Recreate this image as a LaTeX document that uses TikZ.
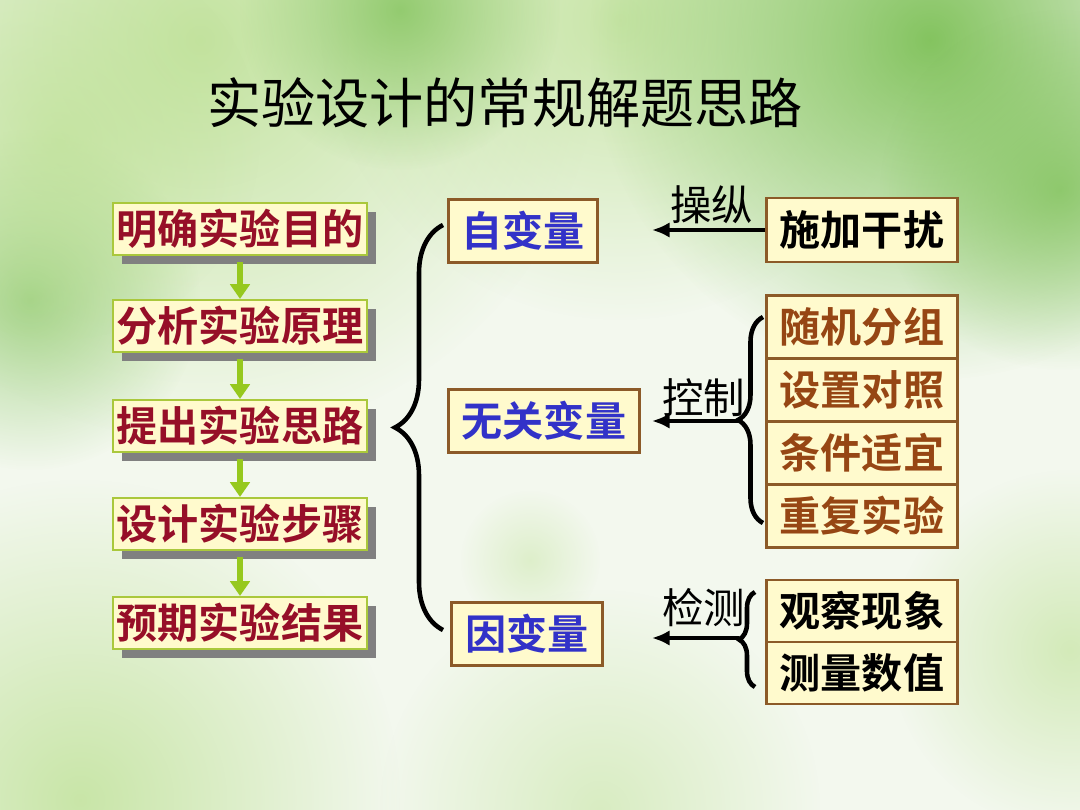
\documentclass[tikz,border=0pt]{standalone}
\usepackage{fontspec}
\setmainfont{Noto Sans CJK SC}[BoldFont={Noto Sans CJK SC Bold}]
\usepackage{tikz}
\usetikzlibrary{arrows.meta,shadows,decorations.pathreplacing,fadings}
\definecolor{bgcol}{RGB}{243,248,238}
\definecolor{leaf}{RGB}{120,190,80}
\definecolor{lime}{RGB}{190,225,150}
\definecolor{boxfill}{RGB}{255,250,205}
\definecolor{boxline}{RGB}{140,90,40}
\definecolor{stepline}{RGB}{170,200,60}
\definecolor{steptext}{RGB}{150,15,40}
\definecolor{vartext}{RGB}{50,50,200}
\definecolor{ctrltext}{RGB}{150,70,20}
\definecolor{arrowgreen}{RGB}{150,200,30}
\newcommand{\boxfont}{\bfseries\fontsize{11.7}{12}\selectfont}
\tikzfading[name=softblob,inner color=transparent!0,outer color=transparent!100]
\tikzstyle{stepbox}=[draw=stepline,line width=0.6,fill=boxfill,text=steptext,font=\boxfont,
                     minimum width=25.4mm,minimum height=5.2mm,inner sep=0,
                     drop shadow={shadow xshift=0.9mm,shadow yshift=-0.9mm,fill=black!50,opacity=1}]
\tikzstyle{varbox}=[draw=boxline,line width=0.6,fill=boxfill,text=vartext,font=\boxfont,
                    minimum height=6.3mm,inner sep=0]
\tikzstyle{actbox}=[varbox,text=black,minimum width=19.1mm]
\tikzstyle{ctrlbox}=[actbox,text=ctrltext]
\tikzstyle{flow}=[-{Triangle[length=4.2,width=5.5]},line width=1.5,arrowgreen]
\tikzstyle{pull}=[-{Latex[length=5,width=4.4]},line width=1.3]
\tikzstyle{lbl}=[font=\fontsize{11.8}{12}\selectfont,inner sep=1]
\tikzstyle{blob}=[path fading=softblob]
\tikzset{curly/.style={line width=1.3,decorate,decoration={brace,amplitude=#1}}}

\begin{document}
\begin{tikzpicture}[x=0.1mm,y=-0.1mm]
  \def\xa{652} % arrow end x
  
  % BACKGROUND
  \fill[bgcol] (0,0) rectangle (1080,810);
  \begin{scope}
    \clip (0,0) rectangle (1080,810);
    \fill[blob,lime,opacity=0.9] (200,40) circle (40mm);
    \fill[blob,lime,opacity=0.8] (620,20) circle (30mm);
    \fill[blob,leaf,opacity=0.7] (400,10) circle (16mm);
    \fill[blob,leaf,opacity=0.9] (930,40) circle (34mm);
    \fill[blob,leaf,opacity=0.7] (1060,190) circle (18mm);
    \fill[blob,leaf,opacity=0.6] (30,300) circle (17mm);
    \fill[blob,lime,opacity=0.7] (60,140) circle (20mm);
    \fill[blob,lime,opacity=0.8] (80,800) circle (32mm);
    \fill[blob,lime,opacity=0.6] (1070,650) circle (18mm);
    \fill[blob,lime,opacity=0.5] (600,810) circle (22mm);
    \fill[blob,lime,opacity=0.4] (530,560) circle (7mm);
  \end{scope}
  \useasboundingbox (0,0) rectangle (1080,810);
  
  % TITLE
  \node (title) at (505,103) {\fontsize{15.4}{17}\selectfont 实验设计的常规解题思路};
  
  % STEPS
  \node[stepbox] (s1) at (240,229) {明确实验目的};
  \node[stepbox] (s2) at (240,326) {分析实验原理};
  \node[stepbox] (s3) at (240,426) {提出实验思路};
  \node[stepbox] (s4) at (240,524) {设计实验步骤};
  \node[stepbox] (s5) at (240,623) {预期实验结果};
  \foreach \a/\b in {s1/s2,s2/s3,s3/s4,s4/s5}
    \draw[flow,shorten <=0.6mm] (\a) -- (\b);
  
  % VARIABLES
  \draw[curly=4.8mm] (443,630) -- (443,225);
  \node[varbox,minimum width=14.9mm] (zbl) at (523,231) {自变量};
  \node[varbox,minimum width=19.1mm] (wgbl) at (544,421) {无关变量};
  \node[varbox,minimum width=15.1mm] (ybl) at (527,634) {因变量};
  \coordinate (aend) at (\xa,0);
  
  % MANIPULATE
  \node[actbox,minimum height=6.4mm] (sjgr) at (862,230) {施加干扰};
  \draw[pull] (sjgr.west) -- (sjgr.west -| aend) node[midway,above,lbl,xshift=0.3mm] {操纵};
  
  % CONTROL
  \node[ctrlbox] (c1) at (862,327) {随机分组};
  \node[ctrlbox] (c2) at (862,390) {设置对照};
  \node[ctrlbox] (c3) at (862,453) {条件适宜};
  \node[ctrlbox] (c4) at (862,516) {重复实验};
  \draw[curly=2.5mm] (763,523) -- (763,317);
  \coordinate (kz) at (738,421);
  \draw[pull] (kz) -- (kz -| aend) node[midway,above,lbl,xshift=0.9mm,yshift=-0.2mm] {控制};
  
  % MEASURE
  \node[actbox,minimum height=6.2mm] (m1) at (862,611) {观察现象};
  \node[actbox,minimum height=6.2mm] (m2) at (862,673) {测量数值};
  \draw[curly=1.6mm] (755,687) -- (755,592);
  \coordinate (jc) at (739,638);
  \draw[pull] (jc) -- (jc -| aend) node[midway,above,lbl,xshift=0.8mm,yshift=0.5mm] {检测};
  
\end{tikzpicture}
\end{document}
